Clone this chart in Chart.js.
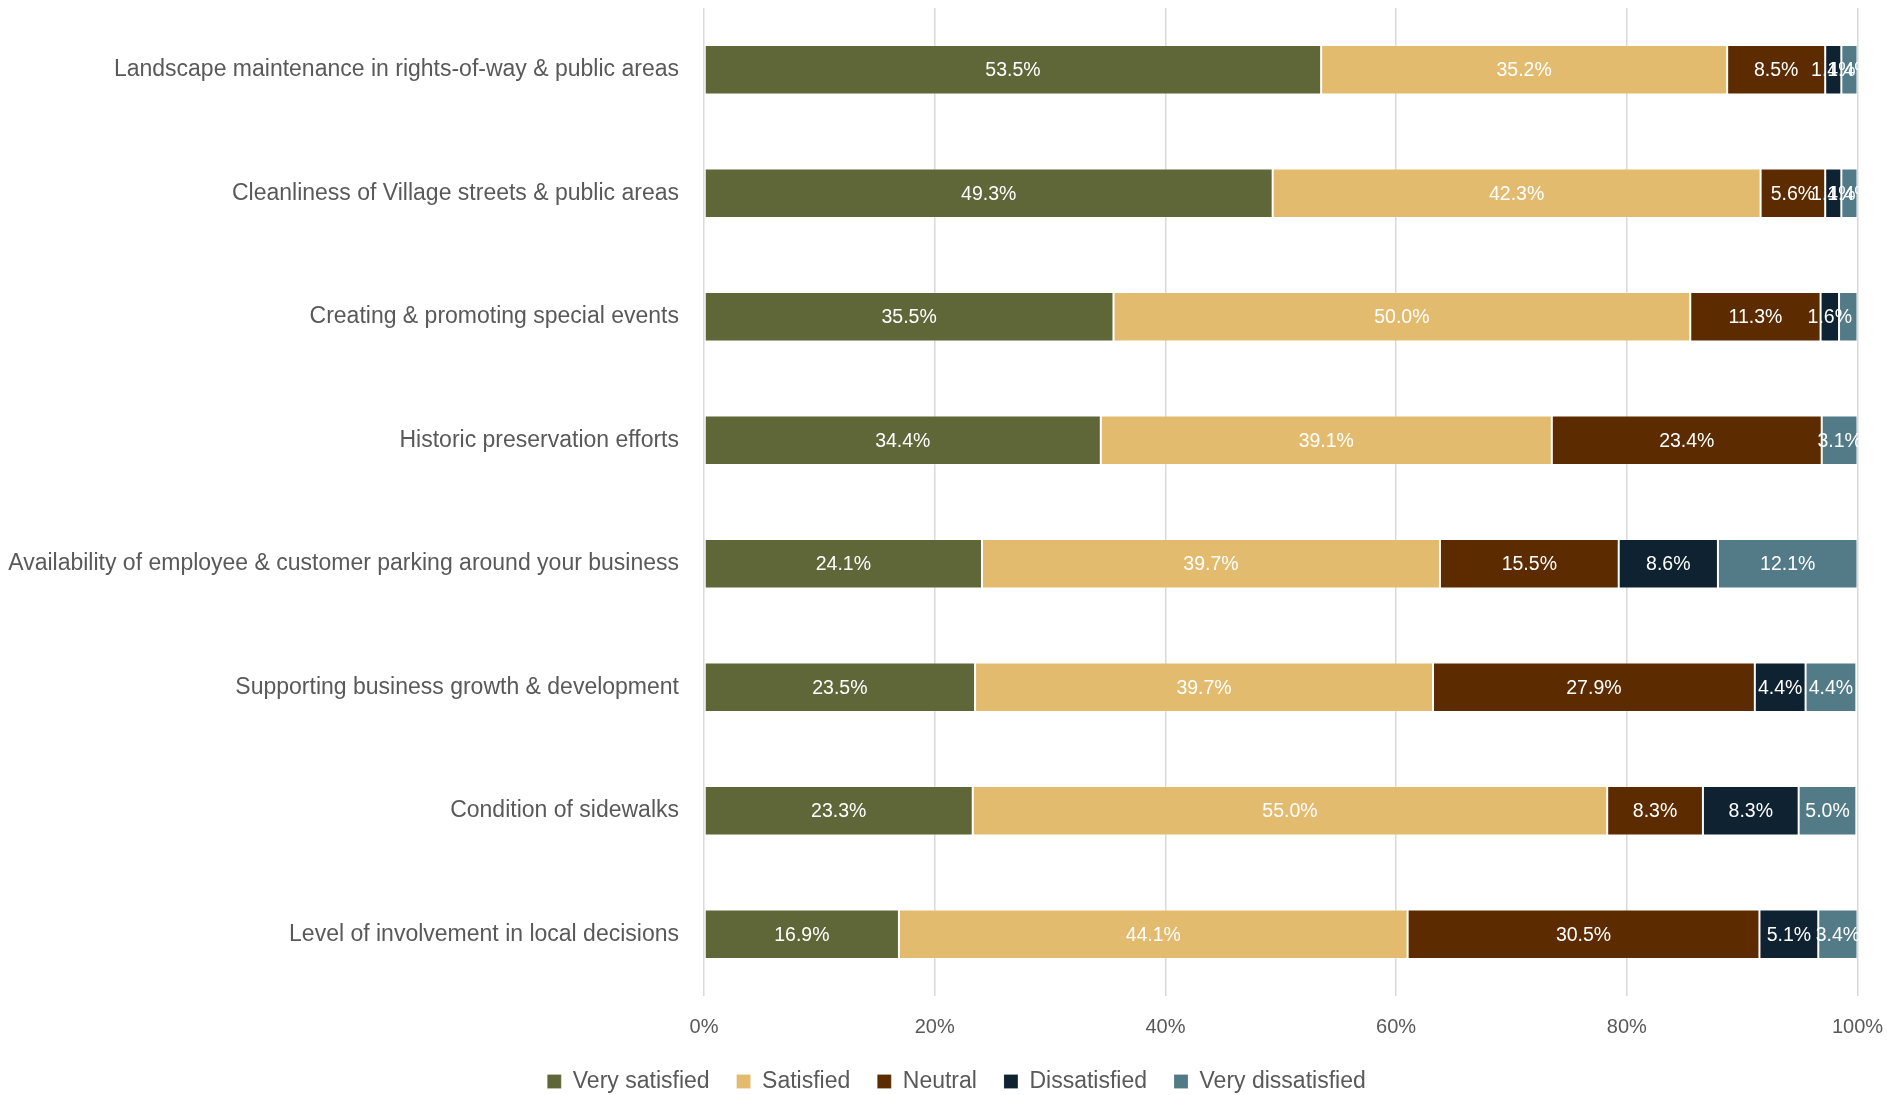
<!DOCTYPE html>
<html><head><meta charset="utf-8">
<script src="https://cdn.jsdelivr.net/npm/chart.js@4.4.1/dist/chart.umd.min.js"></script>
<style>html,body{margin:0;padding:0;background:#fff;}#wrap{width:1887px;height:1095px;}</style>
</head><body><div id="wrap"><canvas id="c" width="1887" height="1095"></canvas></div>
<script>
const categories = [
  'Landscape maintenance in rights-of-way & public areas',
  'Cleanliness of Village streets & public areas',
  'Creating & promoting special events',
  'Historic preservation efforts',
  'Availability of employee & customer parking around your business',
  'Supporting business growth & development',
  'Condition of sidewalks',
  'Level of involvement in local decisions'
];
const seriesNames = ['Very satisfied', 'Satisfied', 'Neutral', 'Dissatisfied', 'Very dissatisfied'];
const verySatisfied    = [53.5, 49.3, 35.5, 34.4, 24.1, 23.5, 23.3, 16.9];
const satisfied        = [35.2, 42.3, 50.0, 39.1, 39.7, 39.7, 55.0, 44.1];
const neutral          = [8.5, 5.6, 11.3, 23.4, 15.5, 27.9, 8.3, 30.5];
const dissatisfied     = [1.4, 1.4, 1.6, 0, 8.6, 4.4, 8.3, 5.1];
const veryDissatisfied = [1.4, 1.4, 1.6, 3.1, 12.1, 4.4, 5.0, 3.4];
const xTickValues = [0, 20, 40, 60, 80, 100];
const hiddenLabels = [[4, 2]]; // [series index, category index] whose label is not shown

const colors = ['#5F6739', '#E3BB6F', '#5C2C00', '#0F2232', '#527A87'];
const FONT = "'Liberation Sans', Arial, sans-serif";
const seriesValues = [verySatisfied, satisfied, neutral, dissatisfied, veryDissatisfied];

const labelPlugin = {
  id: 'segLabels',
  afterDatasetsDraw(chart) {
    const ctx = chart.ctx;
    const a = chart.chartArea;
    ctx.save();
    ctx.beginPath();
    ctx.rect(a.left, a.top, a.right - a.left + 1, a.bottom - a.top);
    ctx.clip();
    ctx.font = '19.5px ' + FONT;
    ctx.fillStyle = '#FFFFFF';
    ctx.textAlign = 'center';
    ctx.textBaseline = 'middle';
    chart.data.datasets.forEach((ds, i) => {
      const meta = chart.getDatasetMeta(i);
      meta.data.forEach((bar, j) => {
        const v = ds.data[j];
        if (!v) return;
        if (hiddenLabels.some(h => h[0] === i && h[1] === j)) return;
        const p = bar.getCenterPoint();
        ctx.fillText(v.toFixed(1) + '%', p.x, p.y + 1);
      });
    });
    ctx.restore();
  }
};

new Chart(document.getElementById('c'), {
  type: 'bar',
  data: {
    labels: categories,
    datasets: seriesNames.map((n, i) => ({
      label: n,
      data: seriesValues[i],
      backgroundColor: colors[i],
      borderColor: 'rgba(255,255,255,0.18)',
      borderWidth: 1,
      borderSkipped: false,
      barPercentage: 0.4,
      categoryPercentage: 1.0
    }))
  },
  options: {
    indexAxis: 'y',
    responsive: false,
    animation: false,
    devicePixelRatio: 1,
    layout: { padding: { top: 8, right: -22, left: 4, bottom: -8 } },
    scales: {
      x: {
        stacked: true,
        min: 0, max: 100,
        afterBuildTicks: s => { s.ticks = xTickValues.map(v => ({ value: v })); },
        ticks: { callback: v => v + '%', color: '#595959', font: { family: FONT, size: 20 }, padding: 19, maxRotation: 0 },
        grid: { color: '#D9D9D9', lineWidth: 1.5, drawTicks: false },
        border: { display: false },
        afterFit: s => { s.height = 47; s.paddingLeft = 0; s.paddingRight = 29.5; }
      },
      y: {
        stacked: true,
        ticks: { color: '#595959', font: { family: FONT, size: 23 }, padding: 25, autoSkip: false },
        grid: { display: false, drawTicks: false },
        border: { display: false },
        afterFit: s => { s.width = 700; s.paddingTop = 0; s.paddingBottom = 0; }
      }
    },
    plugins: {
      legend: {
        position: 'bottom',
        labels: { boxWidth: 14, boxHeight: 14, padding: 27, color: '#595959', font: { family: FONT, size: 23 } }
      },
      tooltip: { enabled: false }
    }
  },
  plugins: [labelPlugin]
});
</script>
</body></html>
